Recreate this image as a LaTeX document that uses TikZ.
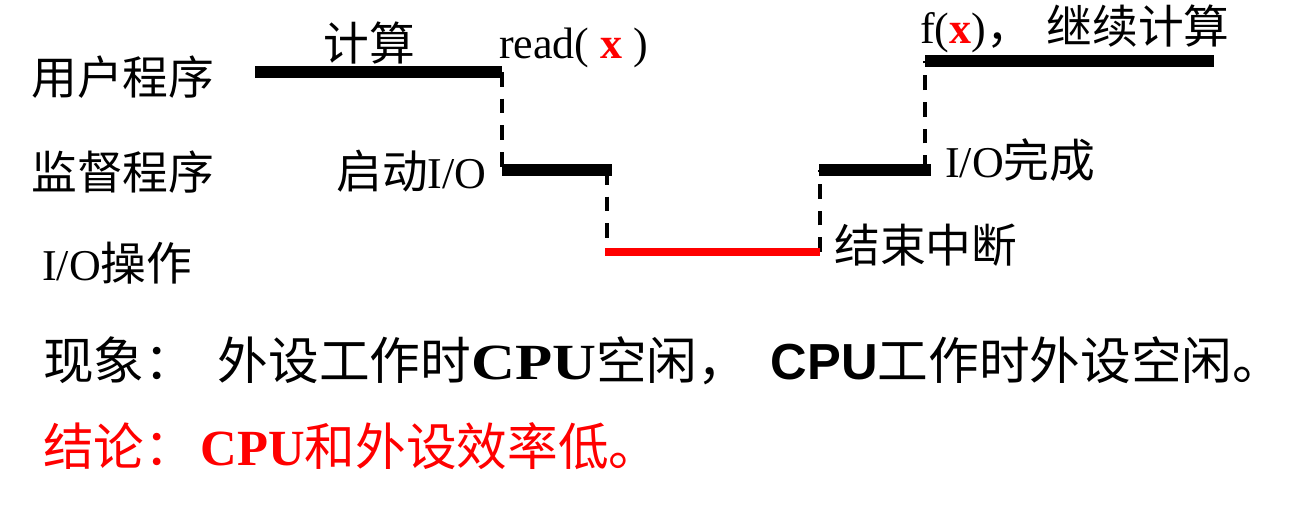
\documentclass[tikz,border=0pt]{standalone}
\usepackage{fontspec}
\setmainfont{Liberation Serif}
\newfontfamily\cjk{Noto Sans CJK SC}
\newfontfamily\cjkt[Scale=1.04]{Noto Sans CJK SC}
\newfontfamily\sansf{Liberation Sans}
\newfontfamily\widebf[FakeStretch=1.2]{Liberation Serif}
\begin{document}
\begin{tikzpicture}[x=0.75pt,y=-0.75pt,
  lab/.style={anchor=base west, inner sep=0, font=\fontsize{33}{36}\selectfont},
  big/.style={anchor=base west, inner sep=0, font=\fontsize{38}{42}\selectfont},
  busy/.style={line width=8.5pt},
  iobusy/.style={line width=6.5pt, red},
  wait/.style={line width=3pt, dash pattern=on 11pt off 9pt}]
\useasboundingbox (0,0) rectangle (1312,521);
% row labels
\node[lab] (up) at (31,94) {\cjkt 用户程序};
\node[lab] (sp) at (31,189) {\cjkt 监督程序};
\node[lab] (io) at (42,280) {I/O{\cjkt 操作}};
% event labels
\node[lab] (calc) at (323,60) {\cjkt 计算};
\node[lab] (read) at (499,58) {read( \textcolor{red}{\bfseries x} )};
\node[lab] (start) at (336,188) {{\cjkt 启动}I/O};
\node[lab] (fx) at (920,43) {f(\textcolor{red}{\bfseries x}){\cjkt ，}\hspace{11pt}{\cjkt 继续计算}};
\node[lab] (done) at (945,177) {I/O{\cjkt 完成}};
\node[lab] (endint) at (834,262) {\cjkt 结束中断};
% timeline coordinates
\coordinate (u1a) at (255,72);
\coordinate (u1b) at (502,72);
\coordinate (m1a) at (502,170);
\coordinate (m1b) at (612,170);
\coordinate (m1d) at (607,170);
\coordinate (r1d) at (607,252);
\coordinate (r1a) at (605,252);
\coordinate (r1b) at (820,252);
\coordinate (m2d) at (820,170);
\coordinate (m2a) at (819,170);
\coordinate (m2b) at (931,170);
\coordinate (m2e) at (925,170);
\coordinate (u2a) at (925,61);
\coordinate (u2b) at (1214,61);
% waiting (dashed) transitions
\draw[wait] (u1b) -- (m1a);
\draw[wait] (m1d) -- (r1d);
\draw[wait] (r1b) -- (m2d);
\draw[wait] (m2e) -- (u2a);
% busy segments
\draw[busy] (u1a) -- (u1b);
\draw[busy] (m1a) -- (m1b);
\draw[iobusy] (r1a) -- (r1b);
\draw[busy] (m2a) -- (m2b);
\draw[busy] (u2a) -- (u2b);
% conclusions
\node[big] (phen) at (43,379) {{\cjk 现象：}\hspace{17pt}{\cjk 外设工作时}{\widebf\bfseries CPU}{\cjk 空闲，}\hspace{17pt}{\sansf\bfseries CPU}{\cjk 工作时外设空闲。}};
\node[big, text=red] (concl) at (43,465) {{\cjk 结论：}\hspace{4pt}{\bfseries CPU}{\cjk 和外设效率低。}};
\end{tikzpicture}
\end{document}
